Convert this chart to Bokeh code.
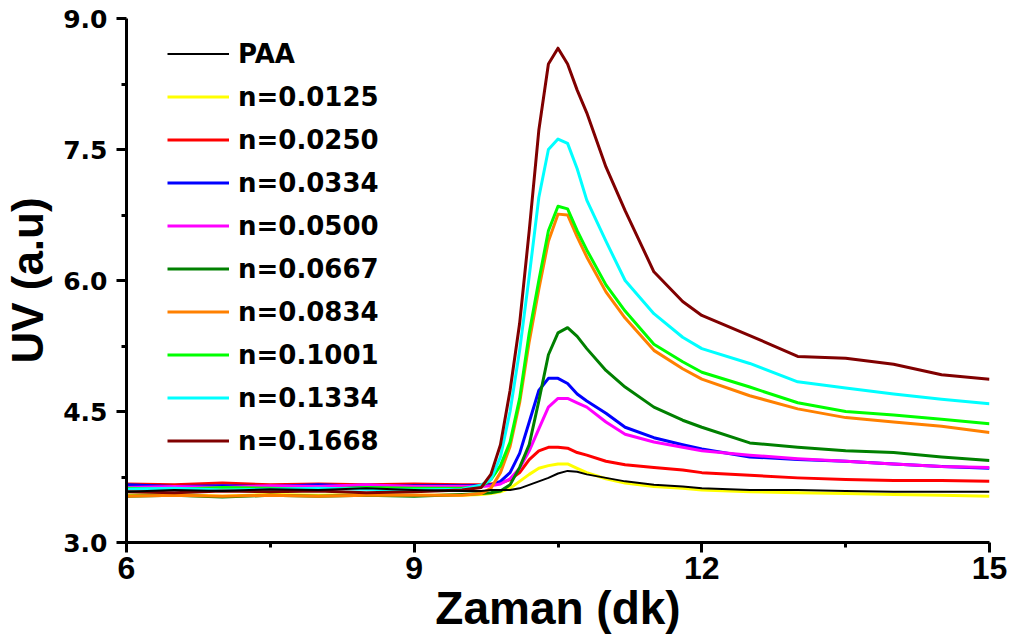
from bokeh.plotting import figure
from bokeh.models import Range1d, LinearAxis, FixedTicker, PrintfTickFormatter, Legend, LegendItem
from bokeh.embed import file_html
from bokeh.resources import INLINE

# time axis (dk)
x = [6.0, 6.5, 7.0, 7.5, 8.0, 8.5, 9.0, 9.5, 9.7, 9.8, 9.9, 10.0, 10.1, 10.2, 10.3, 10.4,
     10.5, 10.6, 10.7, 10.8, 11.0, 11.2, 11.5, 11.8, 12.0, 12.5, 13.0, 13.5, 14.0, 14.5, 15.0]

paa = [3.58, 3.60, 3.59, 3.61, 3.60, 3.62, 3.60, 3.59, 3.59, 3.60, 3.60, 3.60, 3.62, 3.66, 3.70,
       3.74, 3.79, 3.82, 3.81, 3.78, 3.74, 3.70, 3.66, 3.64, 3.62, 3.60, 3.60, 3.59, 3.58, 3.58, 3.58]
n0125 = [3.54, 3.55, 3.53, 3.55, 3.54, 3.55, 3.54, 3.54, 3.55, 3.56, 3.58, 3.62, 3.70, 3.78, 3.85,
         3.88, 3.90, 3.90, 3.85, 3.80, 3.73, 3.68, 3.64, 3.62, 3.60, 3.58, 3.57, 3.56, 3.55, 3.54, 3.53]
n0250 = [3.67, 3.66, 3.68, 3.66, 3.67, 3.66, 3.67, 3.66, 3.66, 3.67, 3.68, 3.72, 3.80, 3.95, 4.05,
         4.09, 4.09, 4.08, 4.03, 4.00, 3.93, 3.89, 3.86, 3.83, 3.80, 3.77, 3.74, 3.72, 3.71, 3.71, 3.70]
n0334 = [3.66, 3.64, 3.65, 3.64, 3.66, 3.64, 3.65, 3.65, 3.65, 3.66, 3.70, 3.80, 4.02, 4.38, 4.74,
         4.88, 4.88, 4.82, 4.70, 4.62, 4.48, 4.32, 4.20, 4.12, 4.07, 3.98, 3.95, 3.93, 3.90, 3.87, 3.85]
n0500 = [3.63, 3.64, 3.63, 3.65, 3.64, 3.66, 3.64, 3.64, 3.64, 3.65, 3.67, 3.73, 3.85, 4.05, 4.30,
         4.55, 4.65, 4.65, 4.60, 4.55, 4.38, 4.24, 4.15, 4.09, 4.05, 4.00, 3.96, 3.93, 3.90, 3.87, 3.86]
n0667 = [3.53, 3.54, 3.52, 3.54, 3.53, 3.54, 3.53, 3.55, 3.56, 3.57, 3.59, 3.66, 3.86, 4.12, 4.62,
         5.15, 5.40, 5.46, 5.36, 5.22, 4.97, 4.78, 4.55, 4.40, 4.32, 4.14, 4.09, 4.05, 4.03, 3.98, 3.94]
n0834 = [3.53, 3.54, 3.53, 3.54, 3.53, 3.54, 3.54, 3.54, 3.56, 3.62, 3.80, 4.10, 4.60, 5.30, 5.90,
         6.45, 6.76, 6.75, 6.50, 6.27, 5.87, 5.57, 5.20, 4.99, 4.87, 4.68, 4.53, 4.43, 4.38, 4.33, 4.26]
n1001 = [3.62, 3.61, 3.63, 3.62, 3.61, 3.63, 3.62, 3.62, 3.64, 3.72, 3.88, 4.15, 4.65, 5.40, 6.00,
         6.57, 6.85, 6.82, 6.57, 6.35, 5.95, 5.65, 5.27, 5.07, 4.95, 4.78, 4.60, 4.50, 4.46, 4.41, 4.36]
n1334 = [3.61, 3.62, 3.60, 3.61, 3.62, 3.61, 3.60, 3.61, 3.66, 3.72, 3.98, 4.50, 5.20, 6.05, 6.95,
         7.50, 7.62, 7.57, 7.28, 6.92, 6.45, 6.00, 5.62, 5.35, 5.22, 5.05, 4.84, 4.77, 4.70, 4.64, 4.59]
n1668 = [3.58, 3.57, 3.59, 3.58, 3.59, 3.57, 3.58, 3.60, 3.63, 3.78, 4.12, 4.74, 5.51, 6.57, 7.72,
         8.48, 8.66, 8.48, 8.18, 7.92, 7.30, 6.80, 6.10, 5.76, 5.60, 5.37, 5.13, 5.11, 5.04, 4.92, 4.87]

names = ["PAA", "n=0.0125", "n=0.0250", "n=0.0334", "n=0.0500", "n=0.0667",
         "n=0.0834", "n=0.1001", "n=0.1334", "n=0.1668"]
series = [paa, n0125, n0250, n0334, n0500, n0667, n0834, n1001, n1334, n1668]
colors = ["#000000", "#FFFF00", "#FF0000", "#0000FF", "#FF00FF", "#008000",
          "#FF8000", "#00FF00", "#00FFFF", "#800000"]

x_ticks = [6, 9, 12, 15]
x_minor = [7.5, 10.5, 13.5]
y_ticks = [3.0, 4.5, 6.0, 7.5, 9.0]
y_minor = [3.75, 5.25, 6.75, 8.25]

p = figure(width=1016, height=641, x_range=Range1d(6, 15), y_range=Range1d(3, 9),
           output_backend="svg", toolbar_location=None,
           x_axis_location=None, y_axis_location=None,
           min_border_left=126, min_border_right=27, min_border_top=18, min_border_bottom=99)
p.xgrid.visible = False
p.ygrid.visible = False
p.outline_line_color = None
p.background_fill_color = "white"
p.border_fill_color = "white"

renderers = {}
order = list(range(1, 10)) + [0]
for i in order:
    lw = 2 if i == 0 else 3
    r = p.line(x, series[i], line_color=colors[i], line_width=lw, line_join="round")
    renderers[i] = r

items = [LegendItem(label=names[i], renderers=[renderers[i]]) for i in range(10)]
legend = Legend(items=items, location=(41, 86), glyph_width=62, glyph_height=31,
                label_height=31, spacing=12, padding=12, label_standoff=9,
                border_line_color=None, background_fill_alpha=0,
                label_text_font="DejaVu Sans", label_text_font_style="bold",
                label_text_font_size="26px", label_text_color="black")
p.add_layout(legend)

xaxis = LinearAxis(ticker=FixedTicker(ticks=x_ticks, minor_ticks=x_minor),
                   formatter=PrintfTickFormatter(format="%d"),
                   axis_label="Zaman (dk)")
yaxis = LinearAxis(ticker=FixedTicker(ticks=y_ticks, minor_ticks=y_minor),
                   formatter=PrintfTickFormatter(format="%.1f"),
                   axis_label="UV (a.u)")
for ax in (xaxis, yaxis):
    ax.axis_line_width = 3
    ax.major_tick_line_width = 3
    ax.minor_tick_line_width = 3
    ax.major_tick_in = 0
    ax.minor_tick_in = 0
    ax.major_tick_out = 10
    ax.minor_tick_out = 5
    ax.axis_label_text_font_style = "bold"
    ax.major_label_text_font_style = "bold"
    ax.axis_label_text_color = "black"
    ax.major_label_text_color = "black"

xaxis.major_label_text_font = "Liberation Sans"
xaxis.major_label_text_font_size = "32px"
xaxis.major_label_standoff = 4
xaxis.axis_label_text_font = "Liberation Sans"
xaxis.axis_label_text_font_size = "46px"
xaxis.axis_label_standoff = 0

yaxis.major_label_text_font = "DejaVu Sans"
yaxis.major_label_text_font_size = "25px"
yaxis.major_label_standoff = 9
yaxis.axis_label_text_font = "Liberation Sans"
yaxis.axis_label_text_font_size = "44px"
yaxis.axis_label_standoff = 8

p.add_layout(xaxis, "below")
p.add_layout(yaxis, "left")

open("out.html", "w").write(file_html(p, INLINE))
